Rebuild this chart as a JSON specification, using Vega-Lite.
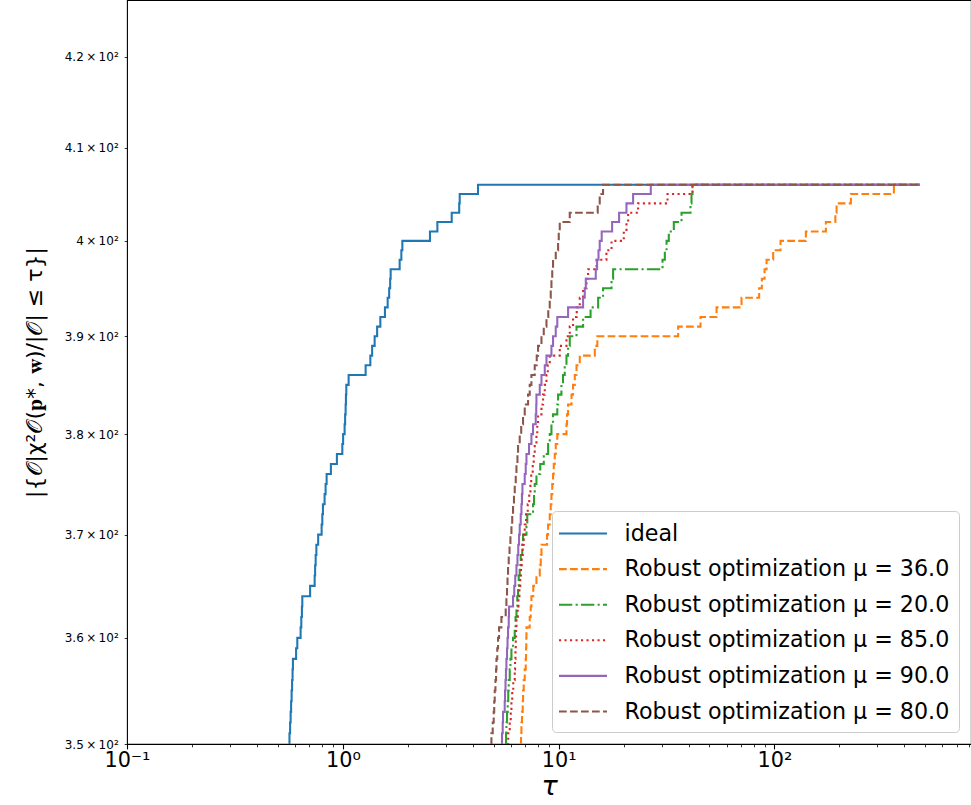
{
"$schema": "https://vega.github.io/schema/vega-lite/v6.json",
"width": 844, "height": 744,
"autosize": {"type": "none"},
"padding": {"left": 127, "top": 0, "right": 0, "bottom": 61},
"background": "white",
"config": {
  "font": "DejaVu Sans",
  "view": {"stroke": "#000", "strokeWidth": 1.1},
  "axis": {"labelFont": "DejaVu Sans", "titleFont": "DejaVu Sans", "labelColor": "#000", "titleColor": "#000", "tickColor": "#000", "domain": false, "grid": false, "titleFontWeight": "normal"},
  "legend": {"title": null, "orient": "none", "legendX": 425, "legendY": 511,
      "symbolType": "M-2,0H2", "symbolSize": 576, "symbolStrokeWidth": 2.08, "symbolOffset": 8.5,
      "labelFontSize": 22.2, "labelFont": "DejaVu Sans", "labelColor": "#000", "labelLimit": 0, "labelOffset": 28,
      "padding": 9, "rowPadding": 10.6, "strokeColor": "#cccccc", "fillColor": "rgba(255,255,255,0.8)", "cornerRadius": 4}
},
"data": {"values": [
{"s":"ideal","t":0.5625,"n":350},{"s":"ideal","t":0.566,"n":351},{"s":"ideal","t":0.5698,"n":352},{"s":"ideal","t":0.573,"n":353},{"s":"ideal","t":0.576,"n":354},{"s":"ideal","t":0.579,"n":355},{"s":"ideal","t":0.582,"n":356},{"s":"ideal","t":0.585,"n":357},{"s":"ideal","t":0.5872,"n":358},{"s":"ideal","t":0.6074,"n":359},{"s":"ideal","t":0.6153,"n":360},{"s":"ideal","t":0.6374,"n":361},{"s":"ideal","t":0.6421,"n":362},{"s":"ideal","t":0.6463,"n":363},{"s":"ideal","t":0.649,"n":364},{"s":"ideal","t":0.7054,"n":365},{"s":"ideal","t":0.7403,"n":366},{"s":"ideal","t":0.7442,"n":367},{"s":"ideal","t":0.7484,"n":368},{"s":"ideal","t":0.7541,"n":369},{"s":"ideal","t":0.7687,"n":370},{"s":"ideal","t":0.7976,"n":371},{"s":"ideal","t":0.8035,"n":372},{"s":"ideal","t":0.8088,"n":373},{"s":"ideal","t":0.8233,"n":374},{"s":"ideal","t":0.8321,"n":375},{"s":"ideal","t":0.8413,"n":376},{"s":"ideal","t":0.8805,"n":377},{"s":"ideal","t":0.9388,"n":378},{"s":"ideal","t":0.9947,"n":379},{"s":"ideal","t":1.0032,"n":380},{"s":"ideal","t":1.0193,"n":381},{"s":"ideal","t":1.0249,"n":382},{"s":"ideal","t":1.0304,"n":383},{"s":"ideal","t":1.0337,"n":384},{"s":"ideal","t":1.038,"n":385},{"s":"ideal","t":1.0639,"n":386},{"s":"ideal","t":1.2755,"n":387},{"s":"ideal","t":1.3412,"n":388},{"s":"ideal","t":1.3672,"n":389},{"s":"ideal","t":1.4042,"n":390},{"s":"ideal","t":1.4421,"n":391},{"s":"ideal","t":1.4923,"n":392},{"s":"ideal","t":1.5675,"n":393},{"s":"ideal","t":1.6135,"n":394},{"s":"ideal","t":1.6395,"n":395},{"s":"ideal","t":1.657,"n":396},{"s":"ideal","t":1.6659,"n":397},{"s":"ideal","t":1.8337,"n":398},{"s":"ideal","t":1.8673,"n":399},{"s":"ideal","t":1.8874,"n":400},{"s":"ideal","t":2.534,"n":401},{"s":"ideal","t":2.7424,"n":402},{"s":"ideal","t":3.1952,"n":403},{"s":"ideal","t":3.4614,"n":404},{"s":"ideal","t":3.48,"n":405},{"s":"ideal","t":4.2297,"n":406},{"s":"ideal","t":472.2,"n":406},
{"s":"36","t":6.652,"n":350},{"s":"36","t":6.694,"n":351},{"s":"36","t":6.723,"n":352},{"s":"36","t":6.766,"n":353},{"s":"36","t":6.817,"n":354},{"s":"36","t":6.84,"n":355},{"s":"36","t":6.891,"n":356},{"s":"36","t":6.964,"n":357},{"s":"36","t":7.039,"n":358},{"s":"36","t":7.062,"n":359},{"s":"36","t":7.08,"n":360},{"s":"36","t":7.093,"n":361},{"s":"36","t":7.345,"n":362},{"s":"36","t":7.424,"n":363},{"s":"36","t":7.479,"n":364},{"s":"36","t":7.626,"n":365},{"s":"36","t":7.891,"n":366},{"s":"36","t":8.175,"n":367},{"s":"36","t":8.262,"n":368},{"s":"36","t":8.325,"n":369},{"s":"36","t":8.839,"n":370},{"s":"36","t":8.936,"n":371},{"s":"36","t":9.094,"n":372},{"s":"36","t":9.191,"n":373},{"s":"36","t":9.26,"n":374},{"s":"36","t":9.34,"n":375},{"s":"36","t":9.421,"n":376},{"s":"36","t":9.491,"n":377},{"s":"36","t":9.593,"n":378},{"s":"36","t":9.696,"n":379},{"s":"36","t":9.856,"n":380},{"s":"36","t":10.87,"n":381},{"s":"36","t":10.94,"n":382},{"s":"36","t":11.06,"n":383},{"s":"36","t":11.47,"n":384},{"s":"36","t":11.66,"n":385},{"s":"36","t":11.88,"n":386},{"s":"36","t":12.1,"n":387},{"s":"36","t":12.53,"n":388},{"s":"36","t":14.71,"n":389},{"s":"36","t":15.11,"n":390},{"s":"36","t":35.79,"n":391},{"s":"36","t":45.44,"n":392},{"s":"36","t":53.9,"n":393},{"s":"36","t":70.38,"n":394},{"s":"36","t":84.92,"n":395},{"s":"36","t":87.41,"n":396},{"s":"36","t":89.97,"n":397},{"s":"36","t":91.91,"n":398},{"s":"36","t":98.62,"n":399},{"s":"36","t":106.7,"n":400},{"s":"36","t":139.8,"n":401},{"s":"36","t":173.1,"n":402},{"s":"36","t":191.5,"n":403},{"s":"36","t":194.0,"n":404},{"s":"36","t":226.0,"n":405},{"s":"36","t":357.6,"n":406},{"s":"36","t":472.2,"n":406},
{"s":"20","t":5.685,"n":350},{"s":"20","t":5.704,"n":351},{"s":"20","t":5.728,"n":352},{"s":"20","t":5.765,"n":353},{"s":"20","t":5.808,"n":354},{"s":"20","t":5.841,"n":355},{"s":"20","t":5.871,"n":356},{"s":"20","t":5.934,"n":357},{"s":"20","t":5.978,"n":358},{"s":"20","t":6.043,"n":359},{"s":"20","t":6.148,"n":360},{"s":"20","t":6.26,"n":361},{"s":"20","t":6.314,"n":362},{"s":"20","t":6.375,"n":363},{"s":"20","t":6.431,"n":364},{"s":"20","t":6.486,"n":365},{"s":"20","t":6.532,"n":366},{"s":"20","t":6.602,"n":367},{"s":"20","t":6.673,"n":368},{"s":"20","t":6.78,"n":369},{"s":"20","t":6.84,"n":370},{"s":"20","t":7.093,"n":371},{"s":"20","t":7.155,"n":372},{"s":"20","t":7.609,"n":373},{"s":"20","t":7.69,"n":374},{"s":"20","t":7.748,"n":375},{"s":"20","t":7.891,"n":376},{"s":"20","t":8.219,"n":377},{"s":"20","t":8.532,"n":378},{"s":"20","t":8.936,"n":379},{"s":"20","t":9.094,"n":380},{"s":"20","t":9.26,"n":381},{"s":"20","t":9.421,"n":382},{"s":"20","t":9.856,"n":383},{"s":"20","t":9.941,"n":384},{"s":"20","t":10.3,"n":385},{"s":"20","t":10.48,"n":386},{"s":"20","t":10.67,"n":387},{"s":"20","t":10.87,"n":388},{"s":"20","t":11.06,"n":389},{"s":"20","t":11.26,"n":390},{"s":"20","t":12.1,"n":391},{"s":"20","t":12.98,"n":392},{"s":"20","t":14.06,"n":393},{"s":"20","t":15.24,"n":394},{"s":"20","t":16.06,"n":395},{"s":"20","t":17.58,"n":396},{"s":"20","t":17.88,"n":397},{"s":"20","t":30.29,"n":398},{"s":"20","t":31.05,"n":399},{"s":"20","t":31.62,"n":400},{"s":"20","t":32.39,"n":401},{"s":"20","t":34.17,"n":402},{"s":"20","t":37.1,"n":403},{"s":"20","t":40.83,"n":404},{"s":"20","t":41.27,"n":405},{"s":"20","t":41.71,"n":406},{"s":"20","t":472.2,"n":406},
{"s":"85","t":5.765,"n":350},{"s":"85","t":5.841,"n":351},{"s":"85","t":5.934,"n":352},{"s":"85","t":5.998,"n":353},{"s":"85","t":6.043,"n":354},{"s":"85","t":6.094,"n":355},{"s":"85","t":6.161,"n":356},{"s":"85","t":6.26,"n":357},{"s":"85","t":6.28,"n":358},{"s":"85","t":6.307,"n":359},{"s":"85","t":6.327,"n":360},{"s":"85","t":6.348,"n":361},{"s":"85","t":6.375,"n":362},{"s":"85","t":6.464,"n":363},{"s":"85","t":6.513,"n":364},{"s":"85","t":6.581,"n":365},{"s":"85","t":6.637,"n":366},{"s":"85","t":6.694,"n":367},{"s":"85","t":6.745,"n":368},{"s":"85","t":6.817,"n":369},{"s":"85","t":6.891,"n":370},{"s":"85","t":6.964,"n":371},{"s":"85","t":7.062,"n":372},{"s":"85","t":7.192,"n":373},{"s":"85","t":7.306,"n":374},{"s":"85","t":7.4,"n":375},{"s":"85","t":7.463,"n":376},{"s":"85","t":7.585,"n":377},{"s":"85","t":7.666,"n":378},{"s":"85","t":7.748,"n":379},{"s":"85","t":7.891,"n":380},{"s":"85","t":7.961,"n":381},{"s":"85","t":8.029,"n":382},{"s":"85","t":8.325,"n":383},{"s":"85","t":8.469,"n":384},{"s":"85","t":8.624,"n":385},{"s":"85","t":8.782,"n":386},{"s":"85","t":8.905,"n":387},{"s":"85","t":9.094,"n":388},{"s":"85","t":10.118,"n":389},{"s":"85","t":10.87,"n":390},{"s":"85","t":11.259,"n":391},{"s":"85","t":11.66,"n":392},{"s":"85","t":12.13,"n":393},{"s":"85","t":12.526,"n":394},{"s":"85","t":12.98,"n":395},{"s":"85","t":13.46,"n":396},{"s":"85","t":13.69,"n":397},{"s":"85","t":14.98,"n":398},{"s":"85","t":16.65,"n":399},{"s":"85","t":17.58,"n":400},{"s":"85","t":20.04,"n":401},{"s":"85","t":20.62,"n":402},{"s":"85","t":20.99,"n":403},{"s":"85","t":23.35,"n":404},{"s":"85","t":31.95,"n":405},{"s":"85","t":41.71,"n":406},{"s":"85","t":472.2,"n":406},
{"s":"90","t":5.43,"n":350},{"s":"90","t":5.465,"n":351},{"s":"90","t":5.506,"n":352},{"s":"90","t":5.524,"n":353},{"s":"90","t":5.625,"n":354},{"s":"90","t":5.643,"n":355},{"s":"90","t":5.673,"n":356},{"s":"90","t":5.698,"n":357},{"s":"90","t":5.728,"n":358},{"s":"90","t":5.765,"n":359},{"s":"90","t":5.796,"n":360},{"s":"90","t":5.828,"n":361},{"s":"90","t":5.871,"n":362},{"s":"90","t":5.889,"n":363},{"s":"90","t":6.148,"n":364},{"s":"90","t":6.227,"n":365},{"s":"90","t":6.294,"n":366},{"s":"90","t":6.375,"n":367},{"s":"90","t":6.444,"n":368},{"s":"90","t":6.5,"n":369},{"s":"90","t":6.555,"n":370},{"s":"90","t":6.602,"n":371},{"s":"90","t":6.673,"n":372},{"s":"90","t":6.723,"n":373},{"s":"90","t":6.759,"n":374},{"s":"90","t":6.796,"n":375},{"s":"90","t":6.964,"n":376},{"s":"90","t":7.039,"n":377},{"s":"90","t":7.093,"n":378},{"s":"90","t":7.29,"n":379},{"s":"90","t":7.479,"n":380},{"s":"90","t":7.609,"n":381},{"s":"90","t":7.831,"n":382},{"s":"90","t":7.874,"n":383},{"s":"90","t":7.891,"n":384},{"s":"90","t":8.175,"n":385},{"s":"90","t":8.325,"n":386},{"s":"90","t":8.624,"n":387},{"s":"90","t":8.782,"n":388},{"s":"90","t":9.26,"n":389},{"s":"90","t":9.421,"n":390},{"s":"90","t":9.696,"n":391},{"s":"90","t":9.856,"n":392},{"s":"90","t":11.06,"n":393},{"s":"90","t":12.98,"n":394},{"s":"90","t":13.21,"n":395},{"s":"90","t":13.36,"n":396},{"s":"90","t":14.86,"n":397},{"s":"90","t":15.07,"n":398},{"s":"90","t":15.3,"n":399},{"s":"90","t":15.5,"n":400},{"s":"90","t":15.83,"n":401},{"s":"90","t":17.69,"n":402},{"s":"90","t":19.06,"n":403},{"s":"90","t":20.62,"n":404},{"s":"90","t":22.13,"n":405},{"s":"90","t":26.73,"n":406},{"s":"90","t":472.2,"n":406},
{"s":"80","t":4.829,"n":350},{"s":"80","t":4.881,"n":351},{"s":"80","t":4.949,"n":352},{"s":"80","t":5.002,"n":353},{"s":"80","t":5.029,"n":354},{"s":"80","t":5.056,"n":355},{"s":"80","t":5.095,"n":356},{"s":"80","t":5.129,"n":357},{"s":"80","t":5.151,"n":358},{"s":"80","t":5.195,"n":359},{"s":"80","t":5.239,"n":360},{"s":"80","t":5.296,"n":361},{"s":"80","t":5.43,"n":362},{"s":"80","t":5.685,"n":363},{"s":"80","t":5.728,"n":364},{"s":"80","t":5.765,"n":365},{"s":"80","t":5.796,"n":366},{"s":"80","t":5.828,"n":367},{"s":"80","t":5.871,"n":368},{"s":"80","t":5.922,"n":369},{"s":"80","t":5.978,"n":370},{"s":"80","t":6.043,"n":371},{"s":"80","t":6.094,"n":372},{"s":"80","t":6.148,"n":373},{"s":"80","t":6.208,"n":374},{"s":"80","t":6.26,"n":375},{"s":"80","t":6.327,"n":376},{"s":"80","t":6.375,"n":377},{"s":"80","t":6.444,"n":378},{"s":"80","t":6.486,"n":379},{"s":"80","t":6.602,"n":380},{"s":"80","t":6.708,"n":381},{"s":"80","t":6.84,"n":382},{"s":"80","t":6.964,"n":383},{"s":"80","t":7.217,"n":384},{"s":"80","t":7.345,"n":385},{"s":"80","t":7.479,"n":386},{"s":"80","t":7.748,"n":387},{"s":"80","t":7.916,"n":388},{"s":"80","t":8.029,"n":389},{"s":"80","t":8.325,"n":390},{"s":"80","t":8.532,"n":391},{"s":"80","t":8.782,"n":392},{"s":"80","t":8.953,"n":393},{"s":"80","t":9.094,"n":394},{"s":"80","t":9.191,"n":395},{"s":"80","t":9.26,"n":396},{"s":"80","t":9.34,"n":397},{"s":"80","t":9.421,"n":398},{"s":"80","t":9.696,"n":399},{"s":"80","t":9.941,"n":400},{"s":"80","t":10.011,"n":401},{"s":"80","t":10.118,"n":402},{"s":"80","t":11.259,"n":403},{"s":"80","t":15.17,"n":404},{"s":"80","t":15.5,"n":405},{"s":"80","t":16.06,"n":406},{"s":"80","t":472.2,"n":406}
]},
"mark": {"type": "line", "interpolate": "step-after", "strokeWidth": 2.08, "clip": true},
"encoding": {
  "x": {"field": "t", "type": "quantitative",
    "scale": {"type": "log", "domain": [0.1, 814], "nice": false},
    "axis": {
      "values": [0.1,0.2,0.3,0.4,0.5,0.6,0.7,0.8,0.9,1,2,3,4,5,6,7,8,9,10,20,30,40,50,60,70,80,90,100,200,300,400,500,600,700,800],
      "labelExpr": "datum.value == 0.1 ? '10⁻¹' : datum.value == 1 ? '10⁰' : datum.value == 10 ? '10¹' : datum.value == 100 ? '10²' : ''",
      "labelOverlap": false, "labelFlush": false, "labelFontSize": 20.8, "labelPadding": 2,
      "tickSize": {"condition": {"test": "datum.value == 0.1 || datum.value == 1 || datum.value == 10 || datum.value == 100", "value": 4.9}, "value": 2.8},
      "tickWidth": {"condition": {"test": "datum.value == 0.1 || datum.value == 1 || datum.value == 10 || datum.value == 100", "value": 1.1}, "value": 0.8},
      "title": "τ", "titleFontSize": 27, "titleFontStyle": "italic", "titlePadding": 3
    }
  },
  "y": {"field": "n", "type": "quantitative",
    "scale": {"type": "log", "domain": [350, 426.4], "nice": false, "zero": false},
    "axis": {
      "values": [350,360,370,380,390,400,410,420],
      "labelExpr": "(datum.value % 100 == 0 ? format(datum.value/100, 'd') : format(datum.value/100, '.1f')) + '\u2009×\u200910²'",
      "labelFontSize": 12, "labelPadding": 6, "tickSize": 2.8, "tickWidth": 0.8,
      "title": "|{𝒪|χ²𝒪(𝐩*, 𝐰)/|𝒪| ≤ τ}|", "titleFontSize": 22, "titlePadding": 18
    }
  },
  "color": {"field": "s", "type": "nominal",
    "scale": {"domain": ["ideal","36","20","85","90","80"], "range": ["#1f77b4","#ff7f0e","#2ca02c","#d62728","#9467bd","#8c564b"]},
    "legend": {"labelExpr": "datum.label == 'ideal' ? 'ideal' : 'Robust optimization μ = ' + datum.label + '.0'"}
  },
  "strokeDash": {"field": "s", "type": "nominal",
    "scale": {"domain": ["ideal","36","20","85","90","80"], "range": [[1,0],[7.7,3.3],[13.3,3.3,2.1,3.3],[2.1,3.4],[1,0],[7.7,3.3]]},
    "legend": {"labelExpr": "datum.label == 'ideal' ? 'ideal' : 'Robust optimization μ = ' + datum.label + '.0'"}
  }
}
}
